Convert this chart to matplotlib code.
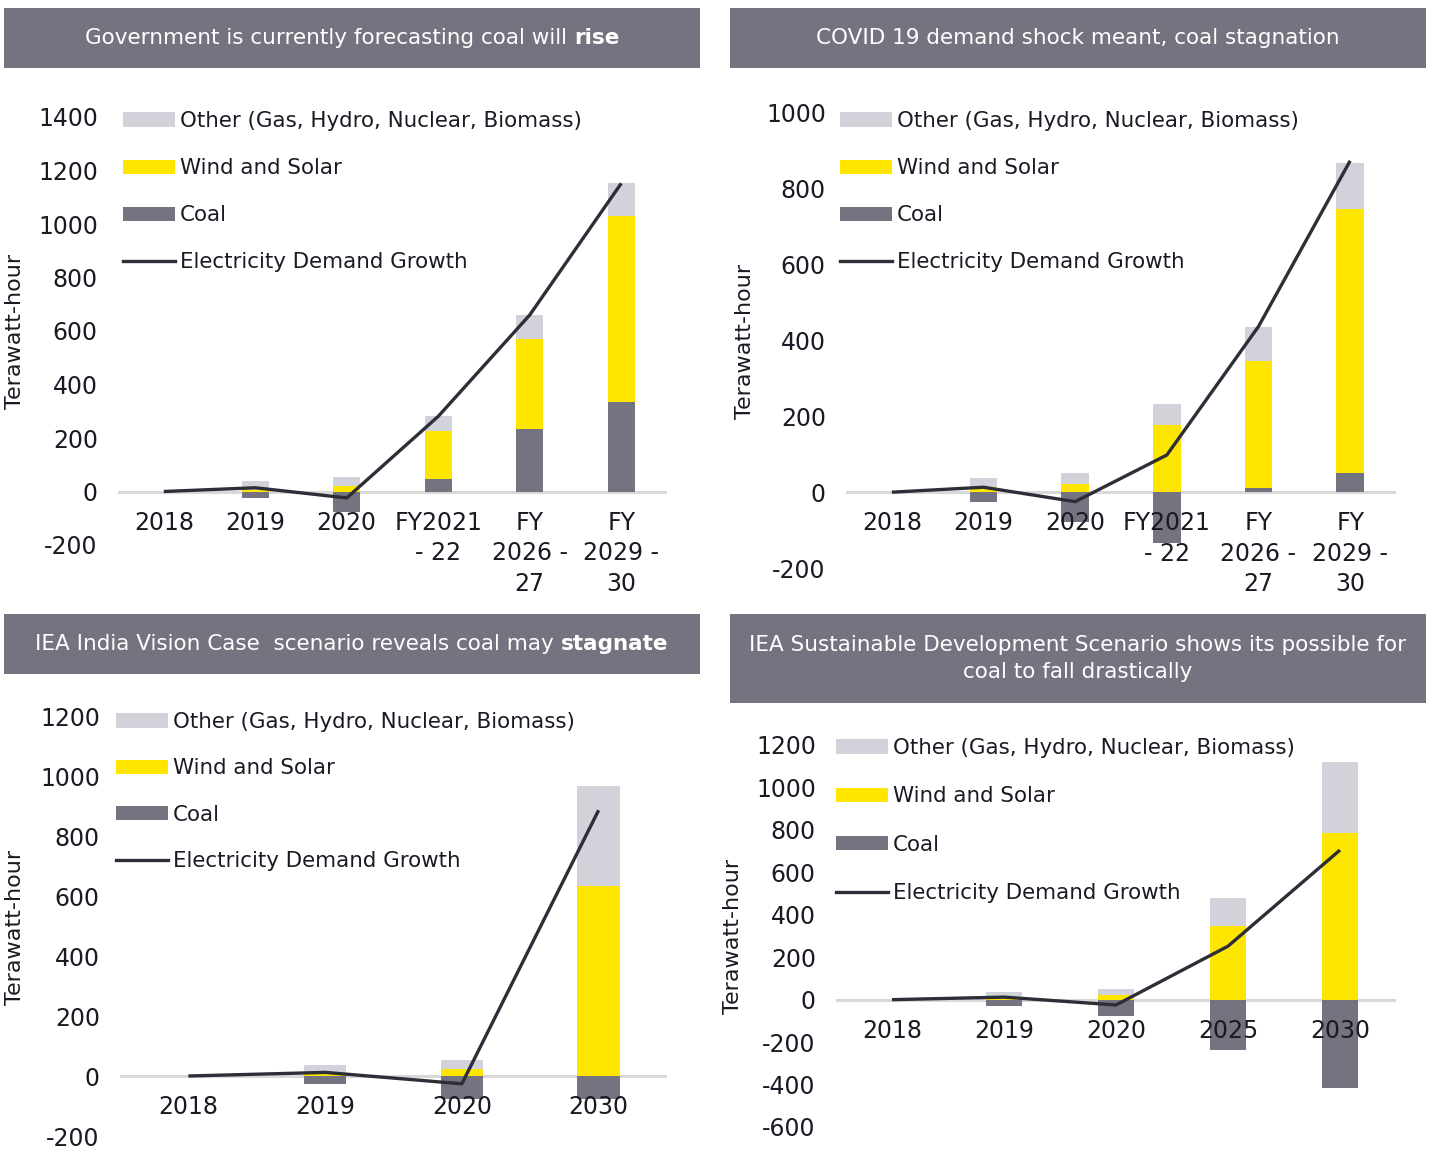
import matplotlib
matplotlib.use("Agg")
import matplotlib.pyplot as plt
import numpy as np
from matplotlib.patches import Patch, Rectangle
from matplotlib.lines import Line2D

plt.rcParams['font.family'] = ['DejaVu Sans']

W, H = 1434, 1149
DPI = 100

# ---------------- data ----------------
cats1 = ["2018", "2019", "2020", "FY2021\n- 22", "FY\n2026 -\n27", "FY\n2029 -\n30"]
coal1 = [0, -26, -77, 47, 234, 333]
wind1 = [0, 5, 22, 178, 336, 697]
other1 = [0, 33, 31, 56, 89, 122]
demand1 = [0, 14, -24, 281, 660, 1152]

cats2 = ["2018", "2019", "2020", "FY2021\n- 22", "FY\n2026 -\n27", "FY\n2029 -\n30"]
coal2 = [0, -27, -78, -135, 10, 50]
wind2 = [0, 13, 21, 176, 335, 697]
other2 = [0, 24, 29, 57, 90, 121]
demand2 = [0, 13, -25, 98, 437, 874]

cats3 = ["2018", "2019", "2020", "2030"]
coal3 = [0, -26, -76, -76]
wind3 = [0, 10, 22, 634]
other3 = [0, 26, 31, 332]
demand3 = [0, 12, -26, 886]

cats4 = ["2018", "2019", "2020", "2025", "2030"]
coal4 = [0, -28, -77, -236, -417]
wind4 = [0, 5, 20, 346, 787]
other4 = [0, 31, 32, 135, 333]
demand4 = [0, 12, -25, 252, 705]

titles = [
    ("Government is currently forecasting coal will ", "rise"),
    ("COVID 19 demand shock meant, coal stagnation", ""),
    ("IEA India Vision Case  scenario reveals coal may ", "stagnate"),
    ("IEA Sustainable Development Scenario shows its possible for\ncoal to fall drastically", ""),
]

legend_labels = ["Other (Gas, Hydro, Nuclear, Biomass)", "Wind and Solar", "Coal",
                 "Electricity Demand Growth"]

# ---------------- style ----------------
C_COAL = "#747480"
C_WIND = "#FFE600"
C_OTHER = "#D2D2DA"
C_LINE = "#2E2E38"
C_BAR = "#747480"
C_ZERO = "#D9D9D9"
TXT = "#1A1A24"
TICK_FS = 17.0
LEG_FS = 15.4
TFS = 15.5

fig = plt.figure(figsize=(W / DPI, H / DPI), dpi=DPI)


def fx(px):
    return px / W


def fy(py):
    return 1 - py / H


# title bars (x0, y0, x1, y1 in pixels)
bars = [(4, 8, 700, 68), (730, 8, 1426, 68), (4, 614, 700, 674), (730, 614, 1426, 703)]
renderer = fig.canvas.get_renderer()
for (x0, y0, x1, y1), (normal, bold) in zip(bars, titles):
    fig.patches.append(Rectangle((fx(x0), fy(y1)), fx(x1 - x0), (y1 - y0) / H,
                                 transform=fig.transFigure, facecolor=C_BAR,
                                 edgecolor="none", zorder=0))
    cx = (x0 + x1) / 2
    cy = (y0 + y1) / 2
    if bold:
        t1 = fig.text(0, fy(cy), normal, color="white", fontsize=TFS, ha="left", va="center")
        t2 = fig.text(0, fy(cy), bold, color="white", fontsize=TFS, ha="left", va="center",
                      fontweight="bold")
        w1 = t1.get_window_extent(renderer).width
        w2 = t2.get_window_extent(renderer).width
        start = cx - (w1 + w2) / 2
        t1.set_x(fx(start))
        t2.set_x(fx(start + w1))
    else:
        fig.text(fx(cx), fy(cy), normal, color="white", fontsize=TFS, ha="center",
                 va="center", linespacing=1.45)

# axes boxes: (left, top, right, bottom) px, ylim, yticks
panels = [
    dict(box=(118, 117, 667, 545), ylim=(-200, 1400), ticks=np.arange(-200, 1401, 200),
         cats=cats1, coal=coal1, wind=wind1, other=other1, demand=demand1,
         leg=(123, 111), ylab=(15, 331), rowsp=1.27, width=0.3),
    dict(box=(846, 113, 1396, 568), ylim=(-200, 1000), ticks=np.arange(-200, 1001, 200),
         cats=cats2, coal=coal2, wind=wind2, other=other2, demand=demand2,
         leg=(840, 111), ylab=(745, 341), rowsp=1.27, width=0.3),
    dict(box=(120, 716, 667, 1136), ylim=(-200, 1200), ticks=np.arange(-200, 1201, 200),
         cats=cats3, coal=coal3, wind=wind3, other=other3, demand=demand3,
         leg=(116, 712), ylab=(15, 927), rowsp=1.23, width=0.31),
    dict(box=(836, 745, 1396, 1127), ylim=(-600, 1200), ticks=np.arange(-600, 1201, 200),
         cats=cats4, coal=coal4, wind=wind4, other=other4, demand=demand4,
         leg=(836, 738), ylab=(733, 936), rowsp=1.33, width=0.32),
]

for p in panels:
    l, t, r, b = p["box"]
    ax = fig.add_axes([fx(l), fy(b), (r - l) / W, (b - t) / H])
    n = len(p["cats"])
    x = np.arange(n)
    coal = np.array(p["coal"], float)
    wind = np.array(p["wind"], float)
    other = np.array(p["other"], float)
    base = np.maximum(coal, 0)
    ax.axhline(0, color=C_ZERO, lw=2.2, zorder=1)
    ax.bar(x, coal, width=p["width"], color=C_COAL, zorder=2)
    ax.bar(x, wind, bottom=base, width=p["width"], color=C_WIND, zorder=2)
    ax.bar(x, other, bottom=base + wind, width=p["width"], color=C_OTHER, zorder=2)
    ax.plot(x, p["demand"], color=C_LINE, lw=2.4, zorder=3, solid_capstyle="butt")
    ax.set_xlim(-0.5, n - 0.5)
    ax.set_ylim(*p["ylim"])
    ax.set_yticks(p["ticks"])
    ax.set_yticklabels([str(v) for v in p["ticks"]])
    ax.tick_params(axis="y", length=0, pad=14.5, labelsize=TICK_FS, labelcolor=TXT)
    ax.set_xticks([])
    for s in ax.spines.values():
        s.set_visible(False)
    ax.patch.set_alpha(0)
    for i, lab in enumerate(p["cats"]):
        ax.annotate(lab, (i, 0), xytext=(0, -19), textcoords="offset pixels",
                    ha="center", va="top", fontsize=TICK_FS, color=TXT, linespacing=1.35,
                    annotation_clip=False)
    handles = [Patch(facecolor=C_OTHER), Patch(facecolor=C_WIND), Patch(facecolor=C_COAL),
               Line2D([], [], color=C_LINE, lw=2.4)]
    lx, ly = p["leg"]
    ax.legend(handles, legend_labels, loc="upper left",
              bbox_to_anchor=(fx(lx), fy(ly)), bbox_transform=fig.transFigure,
              frameon=False, fontsize=LEG_FS, handlelength=2.42, handleheight=0.64,
              handletextpad=0.24, labelspacing=p["rowsp"], borderpad=0, borderaxespad=0,
              labelcolor=TXT)
    fig.text(fx(p["ylab"][0]), fy(p["ylab"][1]), "Terawatt-hour", rotation=90,
             ha="center", va="center", fontsize=16, color=TXT)

fig.savefig("out.png", dpi=DPI)
